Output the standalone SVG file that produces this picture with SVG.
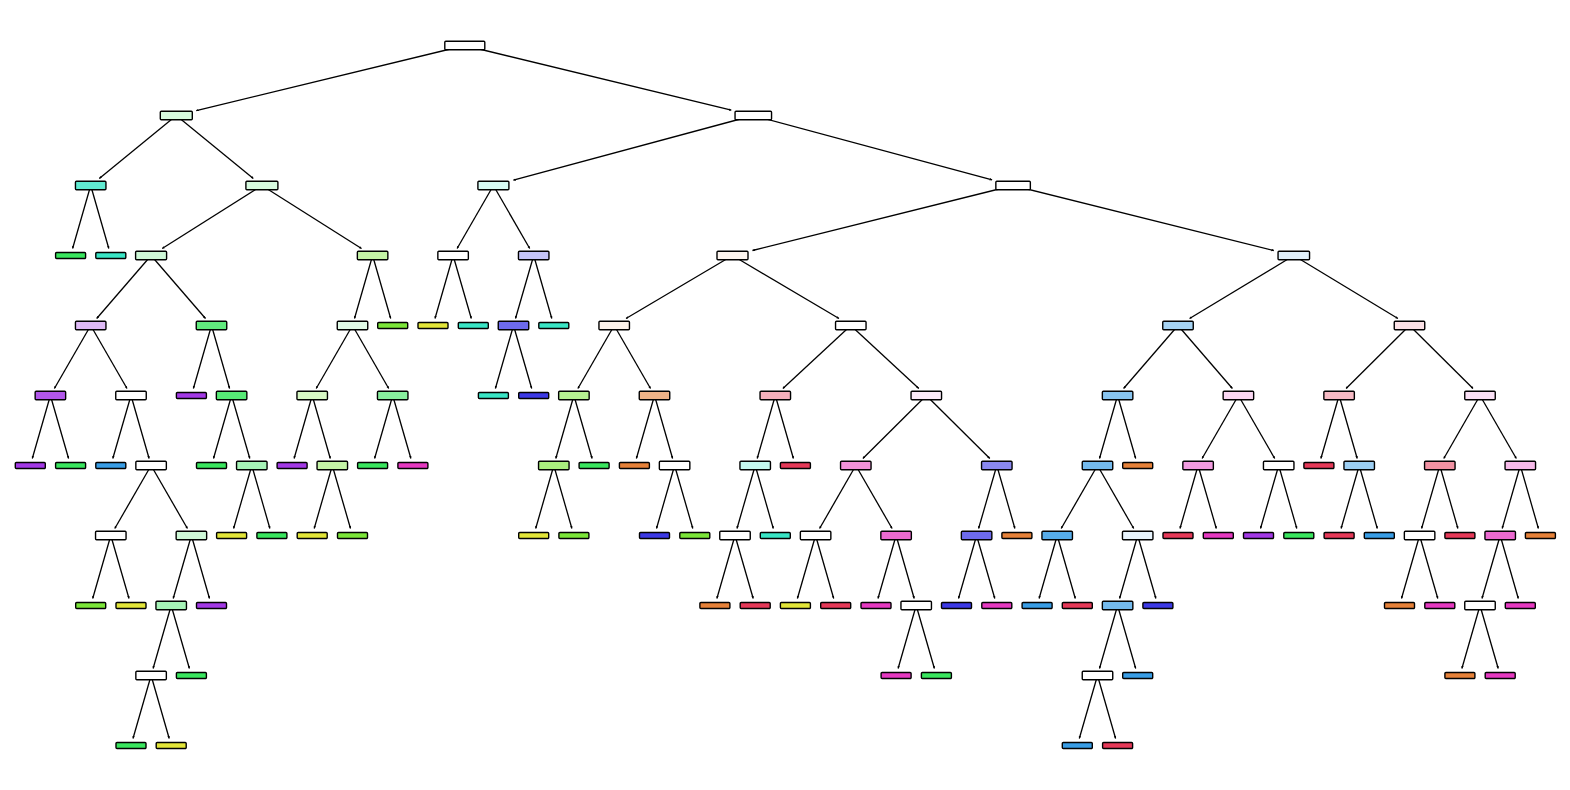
<svg xmlns="http://www.w3.org/2000/svg" width="1570" height="790" viewBox="0 0 1570 790">
<style>
.e path{fill:none;stroke:#000;stroke-width:1.3;marker-end:url(#ah)}
.i{stroke:#000;stroke-width:1.4}
.l{stroke:#000;stroke-width:1.4}
.c0{fill:#e58139}.c1{fill:#e2e539}.c2{fill:#7be539}.c3{fill:#39e55e}.c4{fill:#39e5c5}
.c5{fill:#399de5}.c6{fill:#3c39e5}.c7{fill:#a339e5}.c8{fill:#e539c0}.c9{fill:#e53958}
</style>
<defs>
<marker id="ah" markerWidth="3" markerHeight="3" refX="2.4" refY="1.25" orient="auto" markerUnits="userSpaceOnUse"><path d="M0,0 L2.5,1.25 L0,2.5 z" fill="#000"/></marker>
</defs>
<rect width="1570" height="790" fill="#fff"/>
<g id="connectors" class="e">
<path d="M464.8,45.5 L196.3,110.6"/>
<path d="M464.8,45.5 L731.3,110.2"/>
<path d="M176.3,115.5 L99.3,178.5"/>
<path d="M176.3,115.5 L253.3,178.5"/>
<path d="M753.3,115.5 L513.4,180.1"/>
<path d="M753.3,115.5 L992.1,179.8"/>
<path d="M90.7,185.5 L72.6,248.5"/>
<path d="M90.7,185.5 L108.8,248.5"/>
<path d="M261.9,185.5 L162.2,248.5"/>
<path d="M261.9,185.5 L361.5,248.5"/>
<path d="M493.4,185.5 L457.1,248.5"/>
<path d="M493.4,185.5 L529.7,248.5"/>
<path d="M1013.1,185.5 L752.5,250.5"/>
<path d="M1013.1,185.5 L1273.8,250.5"/>
<path d="M151.1,255.5 L96.7,318.5"/>
<path d="M151.1,255.5 L205.5,318.5"/>
<path d="M372.6,255.5 L354.5,318.5"/>
<path d="M372.6,255.5 L390.7,318.5"/>
<path d="M453.1,255.5 L435.0,318.5"/>
<path d="M453.1,255.5 L471.3,318.5"/>
<path d="M533.7,255.5 L515.5,318.5"/>
<path d="M533.7,255.5 L551.8,318.5"/>
<path d="M732.5,255.5 L626.0,318.5"/>
<path d="M732.5,255.5 L839.0,318.5"/>
<path d="M1293.8,255.5 L1189.6,318.5"/>
<path d="M1293.8,255.5 L1397.9,318.5"/>
<path d="M90.7,325.5 L54.4,388.5"/>
<path d="M90.7,325.5 L127.0,388.5"/>
<path d="M211.5,325.5 L193.4,388.5"/>
<path d="M211.5,325.5 L229.6,388.5"/>
<path d="M352.5,325.5 L316.2,388.5"/>
<path d="M352.5,325.5 L388.7,388.5"/>
<path d="M513.5,325.5 L495.4,388.5"/>
<path d="M513.5,325.5 L531.7,388.5"/>
<path d="M614.2,325.5 L577.9,388.5"/>
<path d="M614.2,325.5 L650.5,388.5"/>
<path d="M850.8,325.5 L782.9,388.5"/>
<path d="M850.8,325.5 L918.8,388.5"/>
<path d="M1178.0,325.5 L1123.6,388.5"/>
<path d="M1178.0,325.5 L1232.4,388.5"/>
<path d="M1409.5,325.5 L1346.1,388.5"/>
<path d="M1409.5,325.5 L1473.0,388.5"/>
<path d="M50.4,395.5 L32.3,458.5"/>
<path d="M50.4,395.5 L68.6,458.5"/>
<path d="M131.0,395.5 L112.8,458.5"/>
<path d="M131.0,395.5 L149.1,458.5"/>
<path d="M231.6,395.5 L213.5,458.5"/>
<path d="M231.6,395.5 L249.8,458.5"/>
<path d="M312.2,395.5 L294.1,458.5"/>
<path d="M312.2,395.5 L330.3,458.5"/>
<path d="M392.7,395.5 L374.6,458.5"/>
<path d="M392.7,395.5 L410.9,458.5"/>
<path d="M573.9,395.5 L555.8,458.5"/>
<path d="M573.9,395.5 L592.1,458.5"/>
<path d="M654.5,395.5 L636.4,458.5"/>
<path d="M654.5,395.5 L672.6,458.5"/>
<path d="M775.3,395.5 L757.2,458.5"/>
<path d="M775.3,395.5 L793.4,458.5"/>
<path d="M926.3,395.5 L862.9,458.5"/>
<path d="M926.3,395.5 L989.8,458.5"/>
<path d="M1117.6,395.5 L1099.5,458.5"/>
<path d="M1117.6,395.5 L1135.7,458.5"/>
<path d="M1238.4,395.5 L1202.1,458.5"/>
<path d="M1238.4,395.5 L1274.7,458.5"/>
<path d="M1339.1,395.5 L1320.9,458.5"/>
<path d="M1339.1,395.5 L1357.2,458.5"/>
<path d="M1480.0,395.5 L1443.8,458.5"/>
<path d="M1480.0,395.5 L1516.3,458.5"/>
<path d="M151.1,465.5 L114.8,528.5"/>
<path d="M151.1,465.5 L187.4,528.5"/>
<path d="M251.8,465.5 L233.6,528.5"/>
<path d="M251.8,465.5 L269.9,528.5"/>
<path d="M332.3,465.5 L314.2,528.5"/>
<path d="M332.3,465.5 L350.5,528.5"/>
<path d="M553.8,465.5 L535.7,528.5"/>
<path d="M553.8,465.5 L571.9,528.5"/>
<path d="M674.6,465.5 L656.5,528.5"/>
<path d="M674.6,465.5 L692.8,528.5"/>
<path d="M755.2,465.5 L737.0,528.5"/>
<path d="M755.2,465.5 L773.3,528.5"/>
<path d="M855.8,465.5 L819.6,528.5"/>
<path d="M855.8,465.5 L892.1,528.5"/>
<path d="M996.8,465.5 L978.6,528.5"/>
<path d="M996.8,465.5 L1014.9,528.5"/>
<path d="M1097.5,465.5 L1061.2,528.5"/>
<path d="M1097.5,465.5 L1133.7,528.5"/>
<path d="M1198.1,465.5 L1180.0,528.5"/>
<path d="M1198.1,465.5 L1216.3,528.5"/>
<path d="M1278.7,465.5 L1260.5,528.5"/>
<path d="M1278.7,465.5 L1296.8,528.5"/>
<path d="M1359.2,465.5 L1341.1,528.5"/>
<path d="M1359.2,465.5 L1377.3,528.5"/>
<path d="M1439.8,465.5 L1421.6,528.5"/>
<path d="M1439.8,465.5 L1457.9,528.5"/>
<path d="M1520.3,465.5 L1502.2,528.5"/>
<path d="M1520.3,465.5 L1538.4,528.5"/>
<path d="M110.8,535.5 L92.7,598.5"/>
<path d="M110.8,535.5 L129.0,598.5"/>
<path d="M191.4,535.5 L173.2,598.5"/>
<path d="M191.4,535.5 L209.5,598.5"/>
<path d="M735.0,535.5 L716.9,598.5"/>
<path d="M735.0,535.5 L753.2,598.5"/>
<path d="M815.6,535.5 L797.4,598.5"/>
<path d="M815.6,535.5 L833.7,598.5"/>
<path d="M896.1,535.5 L878.0,598.5"/>
<path d="M896.1,535.5 L914.2,598.5"/>
<path d="M976.6,535.5 L958.5,598.5"/>
<path d="M976.6,535.5 L994.8,598.5"/>
<path d="M1057.2,535.5 L1039.1,598.5"/>
<path d="M1057.2,535.5 L1075.3,598.5"/>
<path d="M1137.7,535.5 L1119.6,598.5"/>
<path d="M1137.7,535.5 L1155.9,598.5"/>
<path d="M1419.6,535.5 L1401.5,598.5"/>
<path d="M1419.6,535.5 L1437.8,598.5"/>
<path d="M1500.2,535.5 L1482.0,598.5"/>
<path d="M1500.2,535.5 L1518.3,598.5"/>
<path d="M171.2,605.5 L153.1,668.5"/>
<path d="M171.2,605.5 L189.4,668.5"/>
<path d="M916.2,605.5 L898.1,668.5"/>
<path d="M916.2,605.5 L934.4,668.5"/>
<path d="M1117.6,605.5 L1099.5,668.5"/>
<path d="M1117.6,605.5 L1135.7,668.5"/>
<path d="M1480.0,605.5 L1461.9,668.5"/>
<path d="M1480.0,605.5 L1498.2,668.5"/>
<path d="M151.1,675.5 L133.0,738.5"/>
<path d="M151.1,675.5 L169.2,738.5"/>
<path d="M1097.5,675.5 L1079.3,738.5"/>
<path d="M1097.5,675.5 L1115.6,738.5"/>
</g>
<g id="nodes">
<g id="n0" transform="translate(464.8,45.5)"><rect class="i" x="-20" y="-4.25" width="40" height="8.5" rx="1" fill="#ffffff"/></g>
<g id="n1" transform="translate(176.3,115.5)"><rect class="i" x="-16" y="-4.25" width="32" height="8.5" rx="1" fill="#d7fadf"/></g>
<g id="n2" transform="translate(753.3,115.5)"><rect class="i" x="-18.25" y="-4.25" width="36.5" height="8.5" rx="1" fill="#ffffff"/></g>
<g id="n3" transform="translate(90.7,185.5)"><rect class="i" x="-15.25" y="-4.25" width="30.5" height="8.5" rx="1" fill="#60ead1"/></g>
<g id="n4" transform="translate(261.9,185.5)"><rect class="i" x="-16" y="-4.25" width="32" height="8.5" rx="1" fill="#d7fadf"/></g>
<g id="n5" transform="translate(493.4,185.5)"><rect class="i" x="-15.5" y="-4.25" width="31" height="8.5" rx="1" fill="#d7faf3"/></g>
<g id="n6" transform="translate(1013.1,185.5)"><rect class="i" x="-17.25" y="-4.25" width="34.5" height="8.5" rx="1" fill="#ffffff"/></g>
<g id="n7" transform="translate(151.1,255.5)"><rect class="i" x="-15.5" y="-4.25" width="31" height="8.5" rx="1" fill="#cef8d7"/></g>
<g id="n8" transform="translate(372.6,255.5)"><rect class="i" x="-15.25" y="-4.25" width="30.5" height="8.5" rx="1" fill="#c4f3a6"/></g>
<g id="n9" transform="translate(453.1,255.5)"><rect class="i" x="-15.25" y="-4.25" width="30.5" height="8.5" rx="1" fill="#ffffff"/></g>
<g id="n10" transform="translate(533.7,255.5)"><rect class="i" x="-15.25" y="-4.25" width="30.5" height="8.5" rx="1" fill="#c5c4f7"/></g>
<g id="n11" transform="translate(732.5,255.5)"><rect class="i" x="-15.5" y="-4.25" width="31" height="8.5" rx="1" fill="#fdf5ef"/></g>
<g id="n12" transform="translate(1293.8,255.5)"><rect class="i" x="-15.75" y="-4.25" width="31.5" height="8.5" rx="1" fill="#e1f0fb"/></g>
<g id="n13" transform="translate(90.7,325.5)"><rect class="i" x="-15.25" y="-4.25" width="30.5" height="8.5" rx="1" fill="#dfbaf6"/></g>
<g id="n14" transform="translate(211.5,325.5)"><rect class="i" x="-15.25" y="-4.25" width="30.5" height="8.5" rx="1" fill="#61ea7e"/></g>
<g id="n15" transform="translate(352.5,325.5)"><rect class="i" x="-15.25" y="-4.25" width="30.5" height="8.5" rx="1" fill="#e1fbe7"/></g>
<g id="n16" transform="translate(513.5,325.5)"><rect class="i" x="-15.25" y="-4.25" width="30.5" height="8.5" rx="1" fill="#6d6aec"/></g>
<g id="n17" transform="translate(614.2,325.5)"><rect class="i" x="-15.25" y="-4.25" width="30.5" height="8.5" rx="1" fill="#fcf2eb"/></g>
<g id="n18" transform="translate(850.8,325.5)"><rect class="i" x="-15.25" y="-4.25" width="30.5" height="8.5" rx="1" fill="#ffffff"/></g>
<g id="n19" transform="translate(1178.0,325.5)"><rect class="i" x="-15.25" y="-4.25" width="30.5" height="8.5" rx="1" fill="#a6d3f3"/></g>
<g id="n20" transform="translate(1409.5,325.5)"><rect class="i" x="-15.25" y="-4.25" width="30.5" height="8.5" rx="1" fill="#fbe1e6"/></g>
<g id="n21" transform="translate(50.4,395.5)"><rect class="i" x="-15.25" y="-4.25" width="30.5" height="8.5" rx="1" fill="#b157e9"/></g>
<g id="n22" transform="translate(131.0,395.5)"><rect class="i" x="-15.25" y="-4.25" width="30.5" height="8.5" rx="1" fill="#ffffff"/></g>
<g id="n23" transform="translate(231.6,395.5)"><rect class="i" x="-15.25" y="-4.25" width="30.5" height="8.5" rx="1" fill="#57e976"/></g>
<g id="n24" transform="translate(312.2,395.5)"><rect class="i" x="-15.25" y="-4.25" width="30.5" height="8.5" rx="1" fill="#d7f7c4"/></g>
<g id="n25" transform="translate(392.7,395.5)"><rect class="i" x="-15.25" y="-4.25" width="30.5" height="8.5" rx="1" fill="#88ef9e"/></g>
<g id="n26" transform="translate(573.9,395.5)"><rect class="i" x="-15.25" y="-4.25" width="30.5" height="8.5" rx="1" fill="#b6f192"/></g>
<g id="n27" transform="translate(654.5,395.5)"><rect class="i" x="-15.25" y="-4.25" width="30.5" height="8.5" rx="1" fill="#efb388"/></g>
<g id="n28" transform="translate(775.3,395.5)"><rect class="i" x="-15.25" y="-4.25" width="30.5" height="8.5" rx="1" fill="#f5b0bc"/></g>
<g id="n29" transform="translate(926.3,395.5)"><rect class="i" x="-15.25" y="-4.25" width="30.5" height="8.5" rx="1" fill="#fcebf9"/></g>
<g id="n30" transform="translate(1117.6,395.5)"><rect class="i" x="-15.25" y="-4.25" width="30.5" height="8.5" rx="1" fill="#88c4ef"/></g>
<g id="n31" transform="translate(1238.4,395.5)"><rect class="i" x="-15.25" y="-4.25" width="30.5" height="8.5" rx="1" fill="#fad7f2"/></g>
<g id="n32" transform="translate(1339.1,395.5)"><rect class="i" x="-15.25" y="-4.25" width="30.5" height="8.5" rx="1" fill="#f6bac4"/></g>
<g id="n33" transform="translate(1480.0,395.5)"><rect class="i" x="-15.25" y="-4.25" width="30.5" height="8.5" rx="1" fill="#fbe1f6"/></g>
<g id="n34" transform="translate(151.1,465.5)"><rect class="i" x="-15.25" y="-4.25" width="30.5" height="8.5" rx="1" fill="#ffffff"/></g>
<g id="n35" transform="translate(251.8,465.5)"><rect class="i" x="-15.25" y="-4.25" width="30.5" height="8.5" rx="1" fill="#a6f3b7"/></g>
<g id="n36" transform="translate(332.3,465.5)"><rect class="i" x="-15.25" y="-4.25" width="30.5" height="8.5" rx="1" fill="#c4f3a6"/></g>
<g id="n37" transform="translate(553.8,465.5)"><rect class="i" x="-15.25" y="-4.25" width="30.5" height="8.5" rx="1" fill="#a9ee7e"/></g>
<g id="n38" transform="translate(674.6,465.5)"><rect class="i" x="-15.25" y="-4.25" width="30.5" height="8.5" rx="1" fill="#ffffff"/></g>
<g id="n39" transform="translate(755.2,465.5)"><rect class="i" x="-15.25" y="-4.25" width="30.5" height="8.5" rx="1" fill="#c4f7ee"/></g>
<g id="n40" transform="translate(855.8,465.5)"><rect class="i" x="-15.25" y="-4.25" width="30.5" height="8.5" rx="1" fill="#f192d9"/></g>
<g id="n41" transform="translate(996.8,465.5)"><rect class="i" x="-15.25" y="-4.25" width="30.5" height="8.5" rx="1" fill="#8a88ef"/></g>
<g id="n42" transform="translate(1097.5,465.5)"><rect class="i" x="-15.25" y="-4.25" width="30.5" height="8.5" rx="1" fill="#74baed"/></g>
<g id="n43" transform="translate(1198.1,465.5)"><rect class="i" x="-15.25" y="-4.25" width="30.5" height="8.5" rx="1" fill="#f29ce0"/></g>
<g id="n44" transform="translate(1278.7,465.5)"><rect class="i" x="-15.25" y="-4.25" width="30.5" height="8.5" rx="1" fill="#ffffff"/></g>
<g id="n45" transform="translate(1359.2,465.5)"><rect class="i" x="-15.25" y="-4.25" width="30.5" height="8.5" rx="1" fill="#9ccef2"/></g>
<g id="n46" transform="translate(1439.8,465.5)"><rect class="i" x="-15.25" y="-4.25" width="30.5" height="8.5" rx="1" fill="#f192a3"/></g>
<g id="n47" transform="translate(1520.3,465.5)"><rect class="i" x="-15.25" y="-4.25" width="30.5" height="8.5" rx="1" fill="#f6bae9"/></g>
<g id="n48" transform="translate(110.8,535.5)"><rect class="i" x="-15.25" y="-4.25" width="30.5" height="8.5" rx="1" fill="#ffffff"/></g>
<g id="n49" transform="translate(191.4,535.5)"><rect class="i" x="-15.25" y="-4.25" width="30.5" height="8.5" rx="1" fill="#cef8d7"/></g>
<g id="n50" transform="translate(735.0,535.5)"><rect class="i" x="-15.25" y="-4.25" width="30.5" height="8.5" rx="1" fill="#ffffff"/></g>
<g id="n51" transform="translate(815.6,535.5)"><rect class="i" x="-15.25" y="-4.25" width="30.5" height="8.5" rx="1" fill="#ffffff"/></g>
<g id="n52" transform="translate(896.1,535.5)"><rect class="i" x="-15.25" y="-4.25" width="30.5" height="8.5" rx="1" fill="#eb6ad0"/></g>
<g id="n53" transform="translate(976.6,535.5)"><rect class="i" x="-15.25" y="-4.25" width="30.5" height="8.5" rx="1" fill="#6d6aec"/></g>
<g id="n54" transform="translate(1057.2,535.5)"><rect class="i" x="-15.25" y="-4.25" width="30.5" height="8.5" rx="1" fill="#57ace9"/></g>
<g id="n55" transform="translate(1137.7,535.5)"><rect class="i" x="-15.25" y="-4.25" width="30.5" height="8.5" rx="1" fill="#e7f3fc"/></g>
<g id="n56" transform="translate(1419.6,535.5)"><rect class="i" x="-15.25" y="-4.25" width="30.5" height="8.5" rx="1" fill="#ffffff"/></g>
<g id="n57" transform="translate(1500.2,535.5)"><rect class="i" x="-15.25" y="-4.25" width="30.5" height="8.5" rx="1" fill="#eb6ad0"/></g>
<g id="n58" transform="translate(171.2,605.5)"><rect class="i" x="-15.25" y="-4.25" width="30.5" height="8.5" rx="1" fill="#a6f3b7"/></g>
<g id="n59" transform="translate(916.2,605.5)"><rect class="i" x="-15.25" y="-4.25" width="30.5" height="8.5" rx="1" fill="#ffffff"/></g>
<g id="n60" transform="translate(1117.6,605.5)"><rect class="i" x="-15.25" y="-4.25" width="30.5" height="8.5" rx="1" fill="#74baed"/></g>
<g id="n61" transform="translate(1480.0,605.5)"><rect class="i" x="-15.25" y="-4.25" width="30.5" height="8.5" rx="1" fill="#ffffff"/></g>
<g id="n62" transform="translate(151.1,675.5)"><rect class="i" x="-15.25" y="-4.25" width="30.5" height="8.5" rx="1" fill="#ffffff"/></g>
<g id="n63" transform="translate(1097.5,675.5)"><rect class="i" x="-15.25" y="-4.25" width="30.5" height="8.5" rx="1" fill="#ffffff"/></g>

<g id="l0" transform="translate(70.6,255.5)"><rect class="l c3" x="-15" y="-3" width="30" height="6" rx="1"/></g>
<g id="l1" transform="translate(110.8,255.5)"><rect class="l c4" x="-15" y="-3" width="30" height="6" rx="1"/></g>
<g id="l2" transform="translate(392.7,325.5)"><rect class="l c2" x="-15" y="-3" width="30" height="6" rx="1"/></g>
<g id="l3" transform="translate(433.0,325.5)"><rect class="l c1" x="-15" y="-3" width="30" height="6" rx="1"/></g>
<g id="l4" transform="translate(473.3,325.5)"><rect class="l c4" x="-15" y="-3" width="30" height="6" rx="1"/></g>
<g id="l5" transform="translate(553.8,325.5)"><rect class="l c4" x="-15" y="-3" width="30" height="6" rx="1"/></g>
<g id="l6" transform="translate(191.4,395.5)"><rect class="l c7" x="-15" y="-3" width="30" height="6" rx="1"/></g>
<g id="l7" transform="translate(493.4,395.5)"><rect class="l c4" x="-15" y="-3" width="30" height="6" rx="1"/></g>
<g id="l8" transform="translate(533.7,395.5)"><rect class="l c6" x="-15" y="-3" width="30" height="6" rx="1"/></g>
<g id="l9" transform="translate(30.3,465.5)"><rect class="l c7" x="-15" y="-3" width="30" height="6" rx="1"/></g>
<g id="l10" transform="translate(70.6,465.5)"><rect class="l c3" x="-15" y="-3" width="30" height="6" rx="1"/></g>
<g id="l11" transform="translate(110.8,465.5)"><rect class="l c5" x="-15" y="-3" width="30" height="6" rx="1"/></g>
<g id="l12" transform="translate(211.5,465.5)"><rect class="l c3" x="-15" y="-3" width="30" height="6" rx="1"/></g>
<g id="l13" transform="translate(292.1,465.5)"><rect class="l c7" x="-15" y="-3" width="30" height="6" rx="1"/></g>
<g id="l14" transform="translate(372.6,465.5)"><rect class="l c3" x="-15" y="-3" width="30" height="6" rx="1"/></g>
<g id="l15" transform="translate(412.9,465.5)"><rect class="l c8" x="-15" y="-3" width="30" height="6" rx="1"/></g>
<g id="l16" transform="translate(594.1,465.5)"><rect class="l c3" x="-15" y="-3" width="30" height="6" rx="1"/></g>
<g id="l17" transform="translate(634.4,465.5)"><rect class="l c0" x="-15" y="-3" width="30" height="6" rx="1"/></g>
<g id="l18" transform="translate(795.4,465.5)"><rect class="l c9" x="-15" y="-3" width="30" height="6" rx="1"/></g>
<g id="l19" transform="translate(1137.7,465.5)"><rect class="l c0" x="-15" y="-3" width="30" height="6" rx="1"/></g>
<g id="l20" transform="translate(1318.9,465.5)"><rect class="l c9" x="-15" y="-3" width="30" height="6" rx="1"/></g>
<g id="l21" transform="translate(231.6,535.5)"><rect class="l c1" x="-15" y="-3" width="30" height="6" rx="1"/></g>
<g id="l22" transform="translate(271.9,535.5)"><rect class="l c3" x="-15" y="-3" width="30" height="6" rx="1"/></g>
<g id="l23" transform="translate(312.2,535.5)"><rect class="l c1" x="-15" y="-3" width="30" height="6" rx="1"/></g>
<g id="l24" transform="translate(352.5,535.5)"><rect class="l c2" x="-15" y="-3" width="30" height="6" rx="1"/></g>
<g id="l25" transform="translate(533.7,535.5)"><rect class="l c1" x="-15" y="-3" width="30" height="6" rx="1"/></g>
<g id="l26" transform="translate(573.9,535.5)"><rect class="l c2" x="-15" y="-3" width="30" height="6" rx="1"/></g>
<g id="l27" transform="translate(654.5,535.5)"><rect class="l c6" x="-15" y="-3" width="30" height="6" rx="1"/></g>
<g id="l28" transform="translate(694.8,535.5)"><rect class="l c2" x="-15" y="-3" width="30" height="6" rx="1"/></g>
<g id="l29" transform="translate(775.3,535.5)"><rect class="l c4" x="-15" y="-3" width="30" height="6" rx="1"/></g>
<g id="l30" transform="translate(1016.9,535.5)"><rect class="l c0" x="-15" y="-3" width="30" height="6" rx="1"/></g>
<g id="l31" transform="translate(1178.0,535.5)"><rect class="l c9" x="-15" y="-3" width="30" height="6" rx="1"/></g>
<g id="l32" transform="translate(1218.3,535.5)"><rect class="l c8" x="-15" y="-3" width="30" height="6" rx="1"/></g>
<g id="l33" transform="translate(1258.5,535.5)"><rect class="l c7" x="-15" y="-3" width="30" height="6" rx="1"/></g>
<g id="l34" transform="translate(1298.8,535.5)"><rect class="l c3" x="-15" y="-3" width="30" height="6" rx="1"/></g>
<g id="l35" transform="translate(1339.1,535.5)"><rect class="l c9" x="-15" y="-3" width="30" height="6" rx="1"/></g>
<g id="l36" transform="translate(1379.3,535.5)"><rect class="l c5" x="-15" y="-3" width="30" height="6" rx="1"/></g>
<g id="l37" transform="translate(1459.9,535.5)"><rect class="l c9" x="-15" y="-3" width="30" height="6" rx="1"/></g>
<g id="l38" transform="translate(1540.4,535.5)"><rect class="l c0" x="-15" y="-3" width="30" height="6" rx="1"/></g>
<g id="l39" transform="translate(90.7,605.5)"><rect class="l c2" x="-15" y="-3" width="30" height="6" rx="1"/></g>
<g id="l40" transform="translate(131.0,605.5)"><rect class="l c1" x="-15" y="-3" width="30" height="6" rx="1"/></g>
<g id="l41" transform="translate(211.5,605.5)"><rect class="l c7" x="-15" y="-3" width="30" height="6" rx="1"/></g>
<g id="l42" transform="translate(714.9,605.5)"><rect class="l c0" x="-15" y="-3" width="30" height="6" rx="1"/></g>
<g id="l43" transform="translate(755.2,605.5)"><rect class="l c9" x="-15" y="-3" width="30" height="6" rx="1"/></g>
<g id="l44" transform="translate(795.4,605.5)"><rect class="l c1" x="-15" y="-3" width="30" height="6" rx="1"/></g>
<g id="l45" transform="translate(835.7,605.5)"><rect class="l c9" x="-15" y="-3" width="30" height="6" rx="1"/></g>
<g id="l46" transform="translate(876.0,605.5)"><rect class="l c8" x="-15" y="-3" width="30" height="6" rx="1"/></g>
<g id="l47" transform="translate(956.5,605.5)"><rect class="l c6" x="-15" y="-3" width="30" height="6" rx="1"/></g>
<g id="l48" transform="translate(996.8,605.5)"><rect class="l c8" x="-15" y="-3" width="30" height="6" rx="1"/></g>
<g id="l49" transform="translate(1037.1,605.5)"><rect class="l c5" x="-15" y="-3" width="30" height="6" rx="1"/></g>
<g id="l50" transform="translate(1077.3,605.5)"><rect class="l c9" x="-15" y="-3" width="30" height="6" rx="1"/></g>
<g id="l51" transform="translate(1157.9,605.5)"><rect class="l c6" x="-15" y="-3" width="30" height="6" rx="1"/></g>
<g id="l52" transform="translate(1399.5,605.5)"><rect class="l c0" x="-15" y="-3" width="30" height="6" rx="1"/></g>
<g id="l53" transform="translate(1439.8,605.5)"><rect class="l c8" x="-15" y="-3" width="30" height="6" rx="1"/></g>
<g id="l54" transform="translate(1520.3,605.5)"><rect class="l c8" x="-15" y="-3" width="30" height="6" rx="1"/></g>
<g id="l55" transform="translate(191.4,675.5)"><rect class="l c3" x="-15" y="-3" width="30" height="6" rx="1"/></g>
<g id="l56" transform="translate(896.1,675.5)"><rect class="l c8" x="-15" y="-3" width="30" height="6" rx="1"/></g>
<g id="l57" transform="translate(936.4,675.5)"><rect class="l c3" x="-15" y="-3" width="30" height="6" rx="1"/></g>
<g id="l58" transform="translate(1137.7,675.5)"><rect class="l c5" x="-15" y="-3" width="30" height="6" rx="1"/></g>
<g id="l59" transform="translate(1459.9,675.5)"><rect class="l c0" x="-15" y="-3" width="30" height="6" rx="1"/></g>
<g id="l60" transform="translate(1500.2,675.5)"><rect class="l c8" x="-15" y="-3" width="30" height="6" rx="1"/></g>
<g id="l61" transform="translate(131.0,745.5)"><rect class="l c3" x="-15" y="-3" width="30" height="6" rx="1"/></g>
<g id="l62" transform="translate(171.2,745.5)"><rect class="l c1" x="-15" y="-3" width="30" height="6" rx="1"/></g>
<g id="l63" transform="translate(1077.3,745.5)"><rect class="l c5" x="-15" y="-3" width="30" height="6" rx="1"/></g>
<g id="l64" transform="translate(1117.6,745.5)"><rect class="l c9" x="-15" y="-3" width="30" height="6" rx="1"/></g>
</g>
</svg>
